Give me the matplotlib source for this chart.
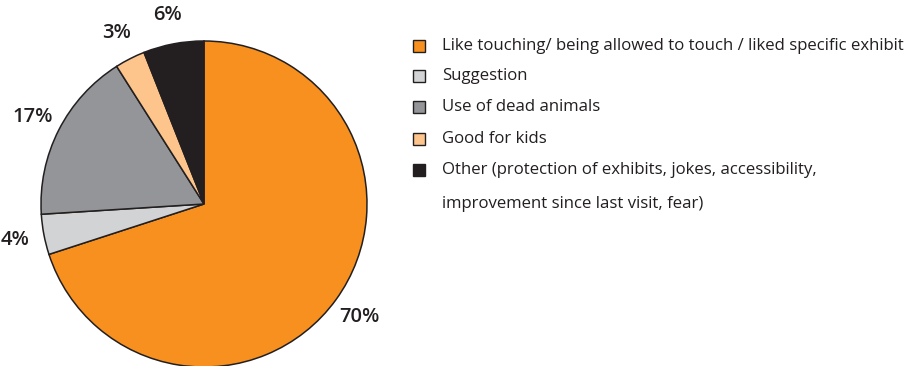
import matplotlib
matplotlib.use("Agg")
import matplotlib.pyplot as plt
from matplotlib.patches import Rectangle

categories = [
    "Like touching/ being allowed to touch / liked specific exhibit",
    "Suggestion",
    "Use of dead animals",
    "Good for kids",
    "Other (protection of exhibits, jokes, accessibility,\nimprovement since last visit, fear)",
]
shares = [70, 4, 17, 3, 6]
pct_labels = ["70%", "4%", "17%", "3%", "6%"]
colors = ["#F7901E", "#D1D3D4", "#939598", "#FDC48B", "#231F20"]

W, H = 920, 366
fig = plt.figure(figsize=(W / 100, H / 100), dpi=100)

# pie centred at (204, 204) px with radius 163 px
cx, cy, r = 204, 204, 163
ax = fig.add_axes([(cx - r) / W, (H - cy - r) / H, 2 * r / W, 2 * r / H])
wedges, texts = ax.pie(
    shares,
    labels=pct_labels,
    colors=colors,
    startangle=90,
    counterclock=False,
    labeldistance=1.18,
    wedgeprops=dict(edgecolor="#231F20", linewidth=1.1),
    textprops=dict(fontsize=14.5, color="#231F20", family="Open Sans",
                   fontweight="semibold"),
)
for t in texts:
    t.set_ha("center")
    t.set_va("center")
ax.set_xlim(-1, 1)
ax.set_ylim(-1, 1)
ax.set_aspect("equal")
ax.axis("off")

# legend drawn as squares and text on the figure
row_y = [46, 76, 107, 139, 170]
line_gap = 34
box = 12
for y, c, lab in zip(row_y, colors, categories):
    fig.patches.append(Rectangle((413 / W, (H - y - box / 2) / H), box / W, box / H,
                                 transform=fig.transFigure, facecolor=c,
                                 edgecolor="#231F20", linewidth=1.0))
    for i, line in enumerate(lab.split("\n")):
        fig.text(442 / W, (H - y - i * line_gap) / H, line, fontsize=12.1,
                 family="Open Sans", color="#231F20", ha="left", va="center")

fig.savefig("out.png", dpi=100)
